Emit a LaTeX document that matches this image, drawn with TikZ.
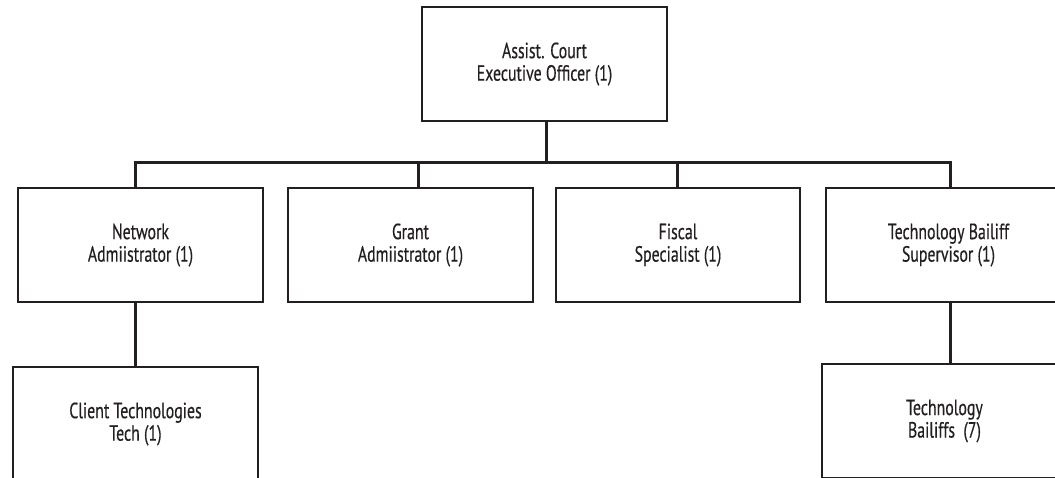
\documentclass[tikz,border=0pt]{standalone}
\usepackage{fontspec}
\setmainfont[FakeStretch=0.72,FakeBold=0.4]{PT Sans}
\definecolor{ink}{HTML}{231F20}
\begin{document}
\begin{tikzpicture}[x=1pt,y=-1pt,
  post/.style={draw=ink, line width=1.4pt, rectangle, minimum width=245pt,
    minimum height=114pt, align=center, text=ink,
    font=\fontsize{22}{22.5}\selectfont},
  conn/.style={draw=ink, line width=3pt}]
\useasboundingbox (0,0) rectangle (1055,477);
\clip (0,0) rectangle (1055,477);
\fill[white] (0,0) rectangle (1055,477);

% positions
\node[post] (top) at (544.5,64) {Assist. Court\\Executive Officer (1)};
\node[post] (net) at (140.5,245) {Network\\Admiistrator (1)};
\node[post] (grant) at (410.5,245) {Grant\\Admiistrator (1)};
\node[post, minimum width=244pt] (fisc) at (678,245) {Fiscal\\Specialist (1)};
\node[post] (tbs) at (948.5,245) {Technology Bailiff\\Supervisor (1)};
\node[post] (client) at (135.5,424) {Client Technologies\\Tech (1)};
\node[post] (bail) at (944.5,421) {Technology\\Bailiffs~~(7)};

% bus line with drop points
\coordinate (b0) at (546,162);
\coordinate (b1) at (135,162);
\coordinate (b2) at (418,162);
\coordinate (b3) at (677,162);
\coordinate (b4) at (950,162);

\draw[conn] (top.south -| b0) -- (b0);
\draw[conn] ([xshift=-1.5pt]b1) -- ([xshift=1.5pt]b4);
\draw[conn] (b1) -- (b1 |- net.north);
\draw[conn] (b2) -- (b2 |- grant.north);
\draw[conn] (b3) -- (b3 |- fisc.north);
\draw[conn] (b4) -- (b4 |- tbs.north);
\draw[conn] (net.south -| b1) -- (b1 |- client.north);
\draw[conn] (tbs.south -| b4) -- (b4 |- bail.north);
\end{tikzpicture}
\end{document}
